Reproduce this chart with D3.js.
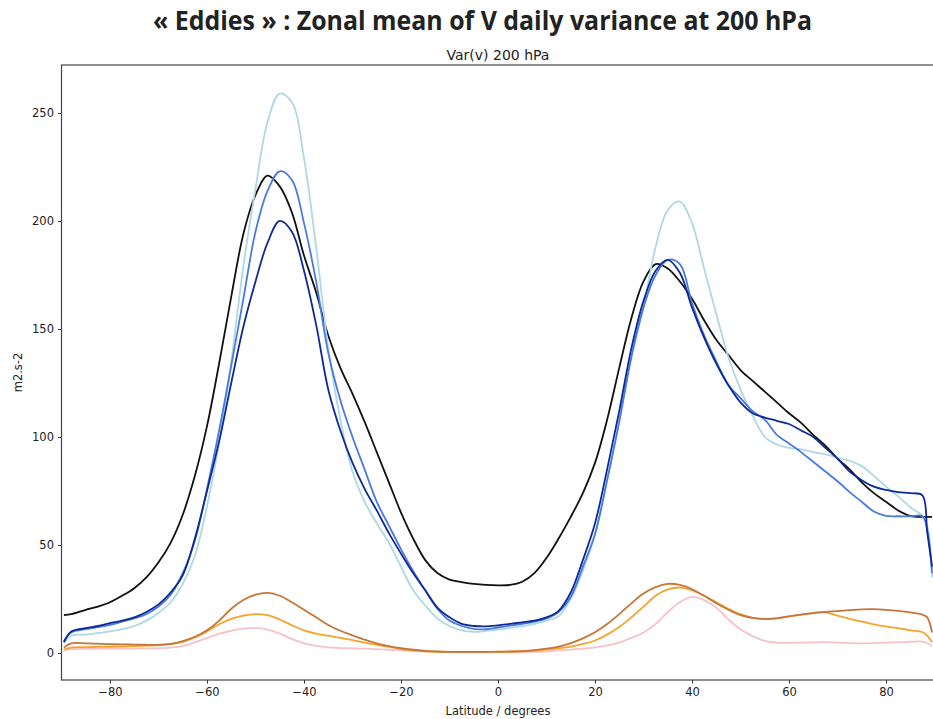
<!DOCTYPE html>
<html>
<head>
<meta charset="utf-8">
<script src="https://cdn.jsdelivr.net/npm/d3@7"></script>
<style>
  body { margin: 0; background: #fff; }
  svg { display: block; }
</style>
</head>
<body>
<div id="chart"></div>
<script>
// Data ------------------------------------------------------------------------------------------------------
const lats = [-89.5, -88, -85, -82.5, -80, -77.5, -75, -72.5, -70, -67.5,
  -65, -62.5, -60, -57.5, -55, -52.5, -50, -47.5, -45, -42.5,
  -40, -37.5, -35, -32.5, -30, -27.5, -25, -22.5, -20, -17.5,
  -15, -12.5, -10, -7.5, -5, -2.5, 0, 2.5, 5, 7.5,
  10, 12.5, 15, 17.5, 20, 22.5, 25, 27.5, 30, 32.5,
  35, 37.5, 40, 42.5, 45, 47.5, 50, 52.5, 55, 57.5,
  60, 62.5, 65, 67.5, 70, 72.5, 75, 77.5, 80, 82.5,
  85, 87.5, 88.5, 89.5];

const obsBlack = [17.5, 18, 20, 21.5, 23.5, 26.5, 30, 35, 42, 51,
  64, 82, 105, 134, 165, 194, 212, 221, 216, 204,
  184, 167, 147, 132, 120, 107, 93, 79, 65, 53,
  43, 37, 34, 32.8, 32, 31.5, 31.3, 31.5, 33, 37,
  44, 53, 63, 74, 88, 108, 132, 155, 172, 180,
  178, 172, 164, 154, 145, 138, 131, 126, 121, 116,
  111, 106.5, 101, 96, 90, 85, 79, 74, 70, 66,
  63.5, 63, 63, 63];

const darkBlue = [5, 10, 11.5, 12.5, 13.8, 15, 16.5, 19, 22.5, 28,
  36, 53, 75, 98, 125, 151, 172, 190, 200, 195,
  177, 152, 122, 103, 88, 76, 66, 55.5, 46, 37,
  29, 21, 16.5, 13.5, 12.5, 12.3, 12.8, 13.5, 14.2, 15,
  16.5, 19.5, 28, 43, 60, 85, 112, 141, 163, 177,
  182, 176, 160, 146, 134, 124, 116, 111, 109, 107.5,
  106, 103, 100, 95, 90, 84, 80, 77, 75.5, 74.5,
  74, 73, 56, 40];

const royalBlue = [5.5, 9.5, 11, 12, 13, 14.5, 16, 18, 21.5, 27,
  37, 52, 76, 103, 133, 164, 195, 214, 223, 219,
  199, 172, 139, 117, 100, 85, 70, 59, 48, 38,
  29, 20.5, 15, 12.5, 11.2, 11, 11.8, 12.7, 13.5, 14.5,
  16, 19, 26, 40, 55, 80, 107, 137, 160, 175,
  182, 180, 162, 147, 135, 124, 118, 112, 108, 101,
  97, 93, 88.5, 84, 79.5, 74.5, 70, 65.5, 63.5, 63.3,
  63.3, 63.3, 57, 37];

const lightBlue = [4.5, 8, 8.5, 9.2, 10, 11, 12.5, 15, 18.5, 23.5,
  32, 45, 68, 97, 135, 179, 215, 246, 259, 255,
  229, 188, 141, 108, 84, 70, 60, 51, 40, 29,
  22, 16, 12.5, 10.5, 9.8, 10.2, 10.8, 11.6, 12.4, 13.5,
  15, 17, 25, 38, 55, 80, 108, 137, 160, 188,
  205, 209, 199, 178, 157, 137, 122, 110, 100, 96.5,
  95, 94.3, 93, 92, 90.5, 89, 86.5, 82, 77, 72.5,
  67.5, 63.5, 59, 35];

const brown = [2.5, 4.5, 4.5, 4.3, 4.1, 4, 3.9, 3.8, 3.8, 4.2,
  5.5, 7.5, 10.5, 15, 20.5, 24.5, 27, 27.8, 26.5, 23.5,
  20, 16.5, 13, 10.3, 8.2, 6.2, 4.5, 3.2, 2.2, 1.5,
  1, 0.7, 0.5, 0.5, 0.5, 0.5, 0.6, 0.7, 0.9, 1.3,
  2, 3, 4.6, 6.8, 9.6, 13.4, 18, 23, 27.5, 30.5,
  32, 31.5, 29.5, 26.5, 23, 20, 17.5, 16.3, 15.8, 16,
  17, 17.8, 18.5, 19, 19.4, 19.8, 20.2, 20.3, 20, 19.5,
  18.8, 17.8, 16.5, 9.5];

const orange = [1.5, 2.5, 2.7, 2.8, 2.9, 3, 3.2, 3.4, 3.6, 4.1,
  5.2, 7.2, 10, 13.3, 15.8, 17.3, 18, 17.5, 15.5, 12.8,
  10.5, 9, 8, 7, 6, 4.8, 3.8, 2.8, 1.8, 1.2,
  0.8, 0.6, 0.5, 0.5, 0.5, 0.5, 0.5, 0.6, 0.8, 1.1,
  1.6, 2.2, 3, 4.2, 5.8, 8.5, 12, 16.5, 21.5, 26.5,
  29.5, 30.3, 29, 26.5, 23.5, 20.5, 18, 16.3, 15.7, 16,
  17, 17.8, 18.5, 18.8, 17.3, 15.8, 14.5, 13.3, 12.3, 11.5,
  10.5, 9.7, 8, 5];

const pink = [1.5, 1.8, 1.9, 2, 2, 2, 2, 2.1, 2.2, 2.5,
  3.2, 5, 7, 8.8, 10.3, 11.3, 11.6, 10.8, 9, 6.5,
  4.5, 3.3, 2.6, 2.3, 2.1, 2, 1.8, 1.5, 1.2, 0.9,
  0.7, 0.5, 0.4, 0.3, 0.3, 0.3, 0.3, 0.3, 0.4, 0.5,
  0.7, 1.2, 1.6, 2, 2.6, 3.5, 4.8, 7, 9.5, 13.5,
  19, 23.5, 26, 24.5, 21, 15.5, 11, 7.8, 5.6, 4.8,
  4.7, 4.8, 4.9, 5, 4.8, 4.6, 4.5, 4.6, 4.8, 5,
  5.2, 5.3, 4.5, 3.2];

const xTicks = [-80, -60, -40, -20, 0, 20, 40, 60, 80];
const yTicks = [0, 50, 100, 150, 200, 250];

const series = [
  {name: "obs", values: obsBlack, color: "#111111"},
  {name: "lightblue", values: lightBlue, color: "#add8e6"},
  {name: "royalblue", values: royalBlue, color: "#4a7ae0"},
  {name: "darkblue", values: darkBlue, color: "#0d2a98"},
  {name: "pink", values: pink, color: "#f7c1c9"},
  {name: "orange", values: orange, color: "#f4a42c"},
  {name: "brown", values: brown, color: "#c67638"}
];

// Dimensions ------------------------------------------------------------------------------------------------
const width = 933, height = 719;
const plot = {left: 61.5, right: 934.5, top: 65, bottom: 680};

const svg = d3.select("#chart").append("svg")
  .attr("width", width)
  .attr("height", height);

// Scales
const x = d3.scaleLinear().domain([-90, 90]).range([plot.left, plot.right]);
const y = d3.scaleLinear().domain([-12.5, 272.2]).range([plot.bottom, plot.top]);

// Titles ----------------------------------------------------------------------------------------------------
svg.append("text")
  .attr("x", 482.5)
  .attr("y", 30)
  .attr("text-anchor", "middle")
  .attr("textLength", 659)
  .attr("lengthAdjust", "spacingAndGlyphs")
  .style("font-family", "'Open Sans', sans-serif")
  .style("font-weight", 700)
  .style("font-size", "27px")
  .style("fill", "#222")
  .text("« Eddies » : Zonal mean of V daily variance at 200 hPa");

svg.append("text")
  .attr("x", (plot.left + plot.right) / 2)
  .attr("y", 60)
  .attr("text-anchor", "middle")
  .style("font-family", "'DejaVu Sans', sans-serif")
  .style("font-size", "14px")
  .style("fill", "#222")
  .text("Var(v) 200 hPa");

// Lines -----------------------------------------------------------------------------------------------------
svg.append("clipPath").attr("id", "clip")
  .append("rect")
  .attr("x", plot.left).attr("y", plot.top)
  .attr("width", plot.right - plot.left).attr("height", plot.bottom - plot.top);

const line = d3.line()
  .x((d, i) => x(lats[i]))
  .y(d => y(d))
  .curve(d3.curveCatmullRom.alpha(0.5));

svg.append("g")
  .attr("clip-path", "url(#clip)")
  .selectAll("path")
  .data(series)
  .join("path")
  .attr("d", d => line(d.values))
  .attr("fill", "none")
  .attr("stroke", d => d.color)
  .attr("stroke-width", 1.8)
  .attr("stroke-linejoin", "round");

// Axes ------------------------------------------------------------------------------------------------------
const fmt = d => d < 0 ? "\u2212" + Math.abs(d) : String(d);

const xAxis = svg.append("g")
  .attr("transform", `translate(0,${plot.bottom})`)
  .call(d3.axisBottom(x).tickValues(xTicks).tickSize(3.5).tickPadding(4).tickFormat(fmt));

const yAxis = svg.append("g")
  .attr("transform", `translate(${plot.left},0)`)
  .call(d3.axisLeft(y).tickValues(yTicks).tickSize(3.5).tickPadding(4).tickFormat(fmt));

[xAxis, yAxis].forEach(a => {
  a.select(".domain").remove();
  a.selectAll("line").attr("stroke", "#333");
  a.selectAll("text")
    .style("font-family", "'DejaVu Sans', sans-serif")
    .style("font-size", "11.5px")
    .style("fill", "#222");
});

// Spines
svg.append("rect")
  .attr("x", plot.left).attr("y", plot.top)
  .attr("width", plot.right - plot.left).attr("height", plot.bottom - plot.top)
  .attr("fill", "none")
  .attr("stroke", "#444")
  .attr("stroke-width", 1.2);

// Axis labels
svg.append("text")
  .attr("x", (plot.left + plot.right) / 2)
  .attr("y", 715)
  .attr("text-anchor", "middle")
  .style("font-family", "'DejaVu Sans', sans-serif")
  .style("font-size", "11.5px")
  .style("fill", "#222")
  .text("Latitude / degrees");

svg.append("text")
  .attr("transform", `translate(22,${(plot.top + plot.bottom) / 2}) rotate(-90)`)
  .attr("text-anchor", "middle")
  .style("font-family", "'DejaVu Sans', sans-serif")
  .style("font-size", "11.5px")
  .style("fill", "#222")
  .text("m2.s-2");
</script>
</body>
</html>
